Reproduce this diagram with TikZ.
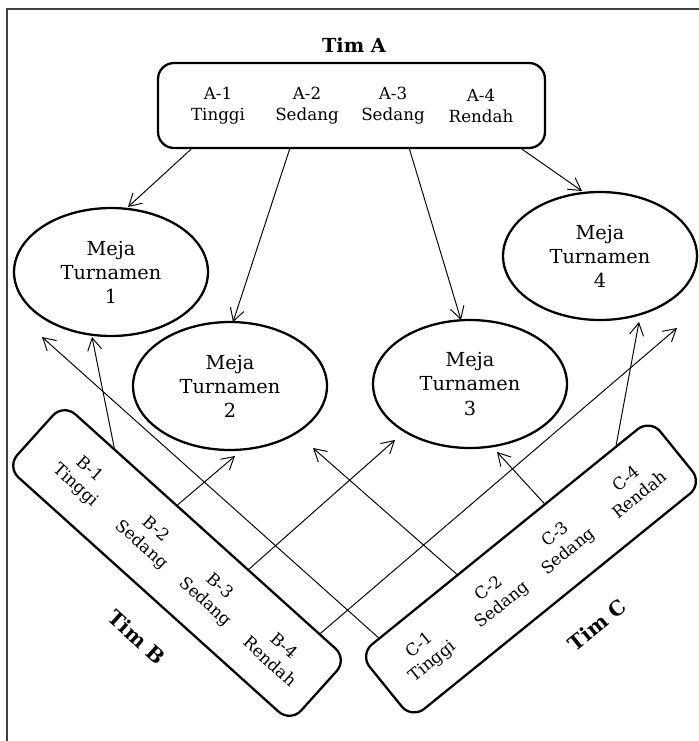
\documentclass[tikz,border=0pt]{standalone}
\usepackage{fontspec}
\setmainfont{DejaVu Serif}
\usetikzlibrary{calc,shapes.geometric,arrows.meta}

\tikzset{
  meja/.style={draw, ellipse, line width=1.3pt, minimum width=3.88cm, minimum height=2.56cm,
    inner sep=0pt, align=center, font=\fontsize{11}{13.7}\selectfont},
  timbox/.style={draw, rounded corners=0.32cm, line width=1.3pt},
  pemain/.style={align=center, inner sep=0pt, font=\fontsize{9.5}{12}\selectfont},
  judul/.style={font=\bfseries\fontsize{11}{12}\selectfont},
  panah/.style={-{Straight Barb[length=7pt,width=8pt]}, line width=0.55pt},
}

\begin{document}
\begin{tikzpicture}[x=0.02cm,y=-0.02cm]
\useasboundingbox (0,0) rectangle (699,741);
\draw[line width=0.9pt, black!75] (7,741) -- (7,9) -- (699,9);

\node[judul] (judulA) at (354,45) {Tim A};
\node[timbox, minimum width=7.74cm, minimum height=1.7cm] (timA) at (351.5,105.5) {};
\node[pemain] (a1) at (218,106) {A-1\\Tinggi};
\node[pemain] (a2) at (307,106) {A-2\\Sedang};
\node[pemain] (a3) at (393,106) {A-3\\Sedang};
\node[pemain] (a4) at (481,106) {A-4\\Rendah};

\node[meja] (m1) at (111,272) {Meja\\Turnamen\\1};
\node[meja] (m2) at (230,386) {Meja\\Turnamen\\2};
\node[meja] (m3) at (470,384) {Meja\\Turnamen\\3};
\node[meja] (m4) at (600,256) {Meja\\Turnamen\\4};

\node[timbox, rotate=-42, minimum width=7.64cm, minimum height=1.7cm] (timB) at (177,563) {};
\node[pemain, rotate=-42] (b1) at ($(timB.west)!0.168!(timB.east)$) {B-1\\Tinggi};
\node[pemain, rotate=-42] (b2) at ($(timB.west)!0.40!(timB.east)$) {B-2\\Sedang};
\node[pemain, rotate=-42] (b3) at ($(timB.west)!0.623!(timB.east)$) {B-3\\Sedang};
\node[pemain, rotate=-42] (b4) at ($(timB.west)!0.851!(timB.east)$) {B-4\\Rendah};
\node[judul, rotate=-42, font=\bfseries\fontsize{11.5}{12}\selectfont] (judulB) at (137,637) {Tim B};

\node[timbox, rotate=39, minimum width=7.48cm, minimum height=1.66cm] (timC) at (531,569) {};
\node[pemain, rotate=39] (c1) at ($(timC.west)!0.142!(timC.east)$) {C-1\\Tinggi};
\node[pemain, rotate=39] (c2) at ($(timC.west)!0.38!(timC.east)$) {C-2\\Sedang};
\node[pemain, rotate=39] (c3) at ($(timC.west)!0.607!(timC.east)$) {C-3\\Sedang};
\node[pemain, rotate=39] (c4) at ($(timC.west)!0.848!(timC.east)$) {C-4\\Rendah};
\node[judul, rotate=39, font=\bfseries\fontsize{11.5}{12}\selectfont] (judulC) at (597,625) {Tim C};

\draw[panah] ($(timA.south west)!0.088!(timA.south east)$) -- ($(m1)+(17,-65)$);
\draw[panah] ($(timA.south west)!0.341!(timA.south east)$) -- ($(m2)+(3,-64)$);
\draw[panah] ($(timA.south west)!0.649!(timA.south east)$) -- ($(m3)+(-9,-64)$);
\draw[panah] ($(timA.south west)!0.938!(timA.south east)$) -- ($(m4)+(-18,-65)$);

\draw[panah] ($(timB.north west)!0.178!(timB.north east)$) -- ($(m1)+(-19,65)$);
\draw[panah] ($(timB.north west)!0.40!(timB.north east)$) -- ($(m2)+(5,70)$);
\draw[panah] ($(timB.north west)!0.65!(timB.north east)$) -- ($(m3)+(-75,56)$);
\draw[panah] ($(timB.north west)!0.90!(timB.north east)$) -- ($(m4)+(77,72)$);

\draw[panah] ($(timC.north west)!0.07!(timC.north east)$) -- ($(m1)+(-69,65)$);
\draw[panah] ($(timC.north west)!0.338!(timC.north east)$) -- ($(m2)+(83,62)$);
\draw[panah] ($(timC.north west)!0.637!(timC.north east)$) -- ($(m3)+(27,68)$);
\draw[panah] ($(timC.north west)!0.883!(timC.north east)$) -- ($(m4)+(39,66)$);
\end{tikzpicture}
\end{document}
